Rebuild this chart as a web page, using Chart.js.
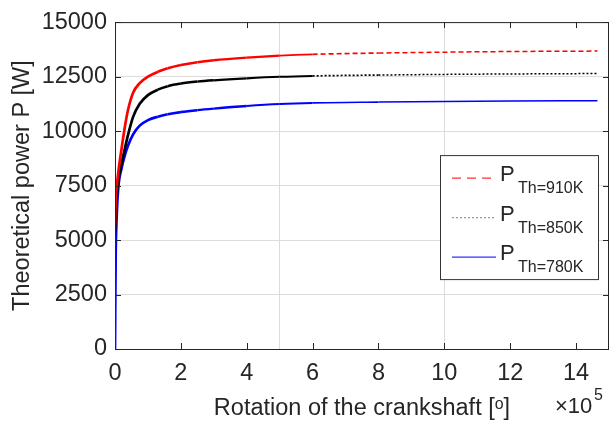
<!DOCTYPE html>
<html>
<head>
<meta charset="UTF-8">
<title>Theoretical power</title>
<script src="https://cdn.jsdelivr.net/npm/chart.js"></script>
<style>
  body { margin: 0; background: #fff; }
</style>
</head>
<body>
<canvas id="chart" width="610" height="423"></canvas>
<script>
// crankshaft rotation, in units of 1e5 degrees
const rotation = [0, 0.02, 0.05, 0.1, 0.2, 0.3, 0.4, 0.55, 0.75, 1.0, 1.3, 1.6, 2.0, 2.5, 3, 4, 5, 6, 8, 10, 12, 14.65];
// theoretical power [W] for each heater temperature
const power910 = [5700, 6900, 7400, 8100, 9200, 10200, 11000, 11760, 12200, 12500, 12720, 12880, 13030, 13160, 13250, 13370, 13460, 13520, 13580, 13620, 13650, 13670];
const power850 = [5300, 6100, 6900, 7700, 8500, 9200, 9850, 10650, 11250, 11650, 11900, 12060, 12180, 12270, 12330, 12420, 12490, 12530, 12570, 12600, 12620, 12640];
const power780 = [0, 4200, 6000, 7400, 8300, 8900, 9350, 9850, 10250, 10500, 10660, 10770, 10870, 10960, 11030, 11150, 11240, 11290, 11330, 11360, 11380, 11390];
const seriesNames = ['P_Th=910K', 'P_Th=850K', 'P_Th=780K'];
const xTicks = [0, 2, 4, 6, 8, 10, 12, 14];
const xGridAt = [5, 10];
const yTicks = [0, 2500, 5000, 7500, 10000, 12500, 15000];

const FONT = '"Liberation Sans", Arial, Helvetica, sans-serif';
const TXT = '#262626';

const pts = vals => rotation.map((x, i) => ({ x: x, y: vals[i] }));

// line thins out along the flat tail, dashed past x = 6
const tailWidth = x => Math.max(1.5, 2.7 - 0.2 * Math.max(0, x - 1));

function series(label, vals, color, tailDash, legendColor, legendDash) {
  return {
    label: label,
    data: pts(vals),
    borderColor: color,
    legendColor: legendColor,
    legendDash: legendDash,
    borderWidth: 2.7,
    pointRadius: 0,
    fill: false,
    cubicInterpolationMode: 'monotone',
    segment: {
      borderDash: ctx => ctx.p0.parsed.x >= 6 ? tailDash : undefined,
      borderWidth: ctx => tailWidth(ctx.p0.parsed.x)
    }
  };
}

// box, inward tick marks and the x exponent
const frame = {
  id: 'frame',
  afterDatasetsDraw(chart) {
    const { ctx, chartArea: a, scales } = chart;
    ctx.save();
    ctx.strokeStyle = TXT;
    ctx.lineWidth = 1;
    ctx.strokeRect(a.left + 0.5, a.top + 0.5, a.right - a.left - 1, a.bottom - a.top);
    ctx.beginPath();
    scales.x.ticks.forEach(t => {
      const px = Math.round(scales.x.getPixelForValue(t.value)) + 0.5;
      ctx.moveTo(px, a.bottom); ctx.lineTo(px, a.bottom - 6);
      ctx.moveTo(px, a.top); ctx.lineTo(px, a.top + 6);
    });
    scales.y.ticks.forEach(t => {
      const py = Math.round(scales.y.getPixelForValue(t.value)) + 0.5;
      ctx.moveTo(a.left, py); ctx.lineTo(a.left + 6, py);
      ctx.moveTo(a.right, py); ctx.lineTo(a.right - 6, py);
    });
    ctx.stroke();

    ctx.fillStyle = TXT;
    ctx.textBaseline = 'alphabetic';
    ctx.textAlign = 'left';
    ctx.font = '22px ' + FONT;
    ctx.fillText('\u00d710', a.right - 54, a.bottom + 64);
    ctx.font = '16px ' + FONT;
    ctx.fillText('5', a.right - 15, a.bottom + 51);
    ctx.restore();
  }
};

// legend with subscripted labels
const legendBox = {
  id: 'legendBox',
  afterDraw(chart) {
    const { ctx, chartArea: a } = chart;
    const w = 158, h = 124;
    const x0 = a.right - 11 - w, y0 = a.top + 133;
    ctx.save();
    ctx.fillStyle = '#fff';
    ctx.fillRect(x0, y0, w, h);
    ctx.strokeStyle = '#333';
    ctx.lineWidth = 1;
    ctx.strokeRect(x0 + 0.5, y0 + 0.5, w, h);
    chart.data.datasets.forEach((ds, i) => {
      const y = y0 + 23 + i * 39.5;
      ctx.strokeStyle = ds.legendColor;
      ctx.lineWidth = 1.3;
      ctx.setLineDash(ds.legendDash);
      ctx.beginPath();
      ctx.moveTo(x0 + 12, y);
      ctx.lineTo(x0 + 56, y);
      ctx.stroke();
      ctx.setLineDash([]);
      const parts = ds.label.split('_');
      ctx.fillStyle = TXT;
      ctx.textAlign = 'left';
      ctx.textBaseline = 'alphabetic';
      ctx.font = '22px ' + FONT;
      ctx.fillText(parts[0], x0 + 60, y + 3);
      ctx.font = '16px ' + FONT;
      ctx.fillText(parts[1], x0 + 78, y + 15);
    });
    ctx.restore();
  }
};

new Chart(document.getElementById('chart'), {
  type: 'line',
  data: {
    datasets: [
      series(seriesNames[0], power910, '#ff0000', [5, 3], '#ff3030', [9, 6]),
      series(seriesNames[1], power850, '#000000', [2, 2], '#999999', [2, 2]),
      series(seriesNames[2], power780, '#0000ff', [], '#3030ff', [])
    ]
  },
  options: {
    responsive: false,
    animation: false,
    layout: { padding: { top: 16, right: 1, left: 0, bottom: 0 } },
    plugins: { legend: { display: false }, tooltip: { enabled: false } },
    scales: {
      x: {
        type: 'linear',
        min: 0,
        max: 15,
        afterBuildTicks: s => { s.ticks = xTicks.map(v => ({ value: v })); },
        afterFit: s => { s.height = 74; },
        grid: { display: false, drawTicks: false },
        border: { display: false },
        ticks: { color: TXT, font: { family: FONT, size: 23.5 }, padding: 10, maxRotation: 0, callback: v => String(v) },
        title: {
          display: true,
          text: 'Rotation of the crankshaft [\u1d52]',
          color: TXT,
          font: { family: FONT, size: 23.5 },
          padding: { top: 0, bottom: 0 }
        }
      },
      xg: {
        type: 'linear',
        position: 'top',
        min: 0,
        max: 15,
        afterBuildTicks: s => { s.ticks = xGridAt.map(v => ({ value: v })); },
        afterFit: s => { s.height = 0; },
        grid: { color: '#dcdcdc', lineWidth: 1, drawTicks: false },
        border: { display: false },
        ticks: { display: false }
      },
      y: {
        min: 0,
        max: 15000,
        afterBuildTicks: s => { s.ticks = yTicks.map(v => ({ value: v })); },
        afterFit: s => { s.width = 115; },
        grid: { color: '#dcdcdc', lineWidth: 1, drawTicks: false },
        border: { display: false },
        ticks: { color: TXT, font: { family: FONT, size: 23.5 }, padding: 8, callback: v => String(v) },
        title: {
          display: true,
          text: 'Theoretical power P [W]',
          color: TXT,
          font: { family: FONT, size: 23.5 },
          padding: { top: 8, bottom: 0 }
        }
      }
    }
  },
  plugins: [frame, legendBox]
});
</script>
</body>
</html>
